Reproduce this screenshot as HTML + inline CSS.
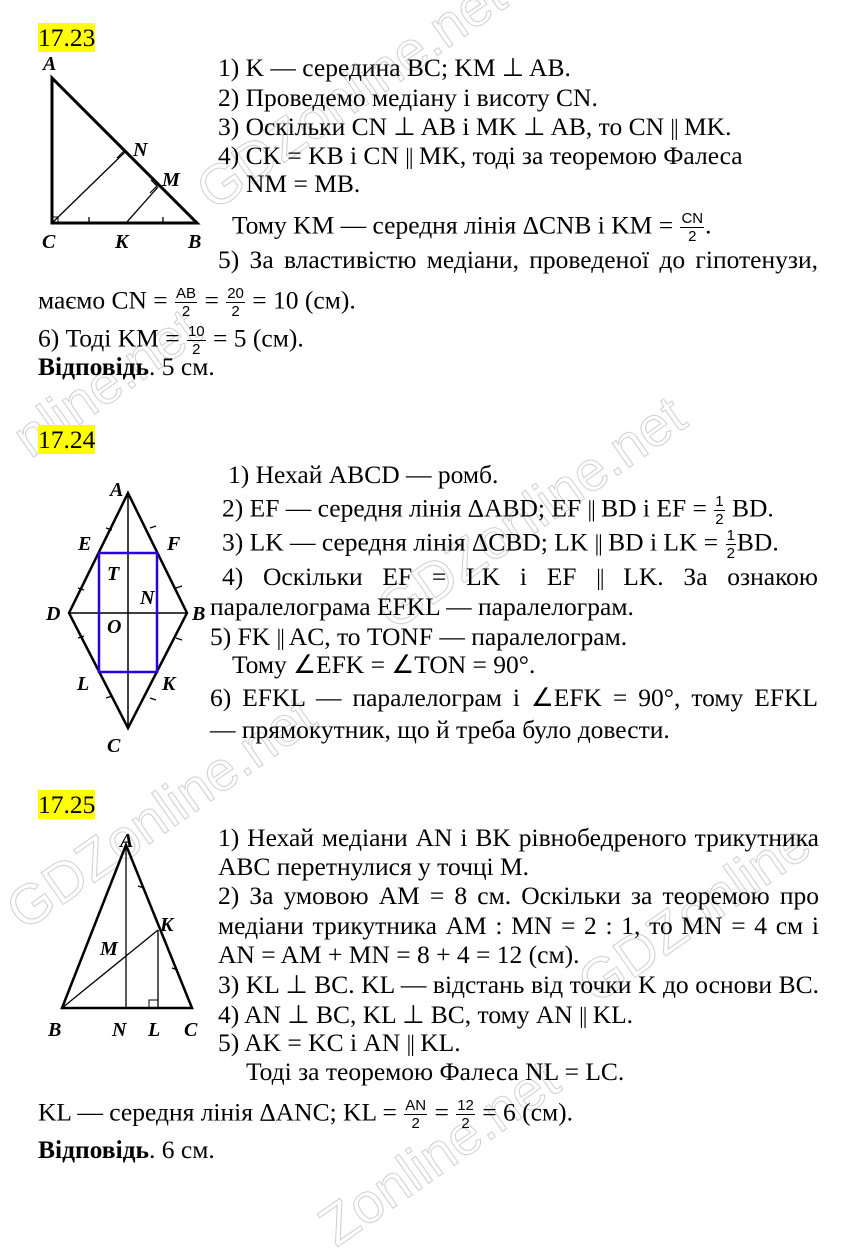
<!DOCTYPE html>
<html><head><meta charset="utf-8"><style>
body{margin:0;width:860px;height:1224px;background:#fff;position:relative;overflow:hidden;font-family:"Liberation Serif",serif;font-size:25.5px;color:#000}
.l{position:absolute;white-space:nowrap;line-height:30px;height:30px}
.hl{background:#ffff00;font-size:25.5px}
.fr{display:inline-block;vertical-align:middle;text-align:center;font-family:"Liberation Sans",sans-serif;font-size:15px;line-height:17px;margin:0 1px}
.fr span{display:block;padding:0 1px}
.fr span:first-child{border-bottom:1px solid #000}
.p{letter-spacing:-1px;font-size:23px}
svg{position:absolute;left:0;top:0}
svg text{font-family:"Liberation Serif",serif;font-style:italic;font-weight:bold;font-size:20px}
.wm{position:absolute;color:transparent;-webkit-text-stroke:1px #cfcfcf;font-family:"Liberation Sans",sans-serif;font-size:56px;white-space:nowrap}
.j{text-align:justify;text-align-last:justify}
</style></head><body>
<div class="wm" style="left:170px;top:60px;transform:rotate(-35deg)">GDZonline.net</div>
<div class="wm" style="left:0px;top:350px;transform:rotate(-35deg)">nline.net</div>
<div class="wm" style="left:350px;top:480px;transform:rotate(-35deg)">GDZonline.net</div>
<div class="wm" style="left:-20px;top:780px;transform:rotate(-35deg)">GDZonline.net</div>
<div class="wm" style="left:560px;top:880px;transform:rotate(-35deg)">GDZonline</div>
<div class="wm" style="left:300px;top:1120px;transform:rotate(-35deg)">Zonline.net</div>

<svg width="860" height="1224">
<g stroke="#000" fill="none">
<path d="M52 78 L52 223 L197 223 Z" stroke-width="3"/>
<path d="M52 223 L125 152 M126 223 L158 187" stroke-width="1.3"/>
<path d="M89 223v-6 M163 223v-6" stroke-width="1.3"/>
<path d="M118 145 l6 6 l-7 7" stroke-width="1.2"/>
<path d="M151 180 l6 6 l-7 7" stroke-width="1.2"/>
<path d="M52 217 h6 v6" stroke-width="1"/>
<path d="M128 493 L187 613 L128 728 L69 613 Z" stroke-width="2.5"/>
<path d="M128 493 V728 M69 613 H187" stroke-width="1.5"/>
<path d="M106 528l6 2 M150 528l6 -2 M78 588l6 2 M176 588l6-2 M78 638l6-2 M176 638l6 2 M106 698l6-2 M150 698l6 2" stroke-width="1.2"/>
<path d="M126 845 L62 1008 L192 1008 Z" stroke-width="2.5"/>
<path d="M126 845 V1008 M158 930 V1008 M62 1008 L158 930" stroke-width="1.3"/>
<path d="M138 886l6 2 M172 968l6 2" stroke-width="1.2"/>
<path d="M149 1008v-8h9" stroke-width="1"/>
</g>
<rect x="99" y="553" width="58" height="119" fill="none" stroke="#2a00e0" stroke-width="2.5"/>
<text x="43" y="70">A</text><text x="133" y="156">N</text><text x="162" y="186">M</text>
<text x="42" y="248">C</text><text x="115" y="248">K</text><text x="188" y="248">B</text>
<text x="110" y="496">A</text><text x="78" y="550">E</text><text x="167" y="550">F</text>
<text x="107" y="580">T</text><text x="140" y="604">N</text><text x="46" y="620">D</text>
<text x="192" y="620">B</text><text x="107" y="633">O</text><text x="77" y="690">L</text>
<text x="162" y="690">K</text><text x="107" y="752">C</text>
<text x="120" y="847">A</text><text x="160" y="931">K</text><text x="100" y="955">M</text>
<text x="48" y="1036">B</text><text x="112" y="1036">N</text><text x="148" y="1036">L</text><text x="184" y="1036">C</text>
</svg>

<div class="l" style="left:38px;top:23px"><span class="hl">17.23</span></div>
<div class="l" style="left:218px;top:53px">1) K — середина BC; KM ⊥ AB.</div>
<div class="l" style="left:218px;top:83px">2) Проведемо медіану і висоту CN.</div>
<div class="l" style="left:218px;top:112px">3) Оскільки CN ⊥ AB і MK ⊥ AB, то CN <span class="p">||</span> MK.</div>
<div class="l" style="left:218px;top:141px">4) CK = KB і CN <span class="p">||</span> MK, тоді за теоремою Фалеса</div>
<div class="l" style="left:246px;top:169px">NM = MB.</div>
<div class="l" style="left:232px;top:210px">Тому KM — середня лінія ΔCNB і KM = <span class="fr"><span>CN</span><span>2</span></span>.</div>
<div class="l j" style="left:218px;top:245px;width:600px">5) За властивістю медіани, проведеної до гіпотенузи,</div>
<div class="l" style="left:38px;top:285px">маємо CN = <span class="fr"><span>AB</span><span>2</span></span> = <span class="fr"><span>20</span><span>2</span></span> = 10 (см).</div>
<div class="l" style="left:38px;top:323px">6) Тоді KM = <span class="fr"><span>10</span><span>2</span></span> = 5 (см).</div>
<div class="l" style="left:38px;top:352px"><b>Відповідь</b>. 5 см.</div>

<div class="l" style="left:38px;top:425px"><span class="hl">17.24</span></div>
<div class="l" style="left:228px;top:460px">1) Нехай ABCD — ромб.</div>
<div class="l" style="left:222px;top:493px">2) EF — середня лінія ΔABD; EF <span class="p">||</span> BD і EF = <span class="fr"><span>1</span><span>2</span></span> BD.</div>
<div class="l" style="left:222px;top:527px">3) LK — середня лінія ΔCBD; LK <span class="p">||</span> BD і LK = <span class="fr"><span>1</span><span>2</span></span>BD.</div>
<div class="l j" style="left:222px;top:562px;width:596px">4) Оскільки EF = LK і EF <span class="p">||</span> LK. За ознакою</div>
<div class="l" style="left:210px;top:592px">паралелограма EFKL — паралелограм.</div>
<div class="l" style="left:210px;top:622px">5) FK <span class="p">||</span> AC, то TONF — паралелограм.</div>
<div class="l" style="left:232px;top:650px">Тому ∠EFK = ∠TON = 90°.</div>
<div class="l j" style="left:210px;top:683px;width:608px">6) EFKL — паралелограм і ∠EFK = 90°, тому EFKL</div>
<div class="l" style="left:210px;top:715px">— прямокутник, що й треба було довести.</div>

<div class="l" style="left:38px;top:790px"><span class="hl">17.25</span></div>
<div class="l j" style="left:218px;top:823px;width:601px">1) Нехай медіани AN і BK рівнобедреного трикутника</div>
<div class="l" style="left:218px;top:852px">ABC перетнулися у точці M.</div>
<div class="l j" style="left:218px;top:881px;width:601px">2) За умовою AM = 8 см. Оскільки за теоремою про</div>
<div class="l j" style="left:218px;top:911px;width:601px">медіани трикутника AM : MN = 2 : 1, то MN = 4 см і</div>
<div class="l" style="left:218px;top:940px">AN = AM + MN = 8 + 4 = 12 (см).</div>
<div class="l j" style="left:218px;top:970px;width:601px">3) KL ⊥ BC. KL — відстань від точки K до основи BC.</div>
<div class="l" style="left:218px;top:1000px">4) AN ⊥ BC, KL ⊥ BC, тому AN <span class="p">||</span> KL.</div>
<div class="l" style="left:218px;top:1028px">5) AK = KC і AN <span class="p">||</span> KL.</div>
<div class="l" style="left:246px;top:1057px">Тоді за теоремою Фалеса NL = LC.</div>
<div class="l" style="left:38px;top:1097px">KL — середня лінія ΔANC; KL = <span class="fr"><span>AN</span><span>2</span></span> = <span class="fr"><span>12</span><span>2</span></span> = 6 (см).</div>
<div class="l" style="left:38px;top:1135px"><b>Відповідь</b>. 6 см.</div>
</body></html>
